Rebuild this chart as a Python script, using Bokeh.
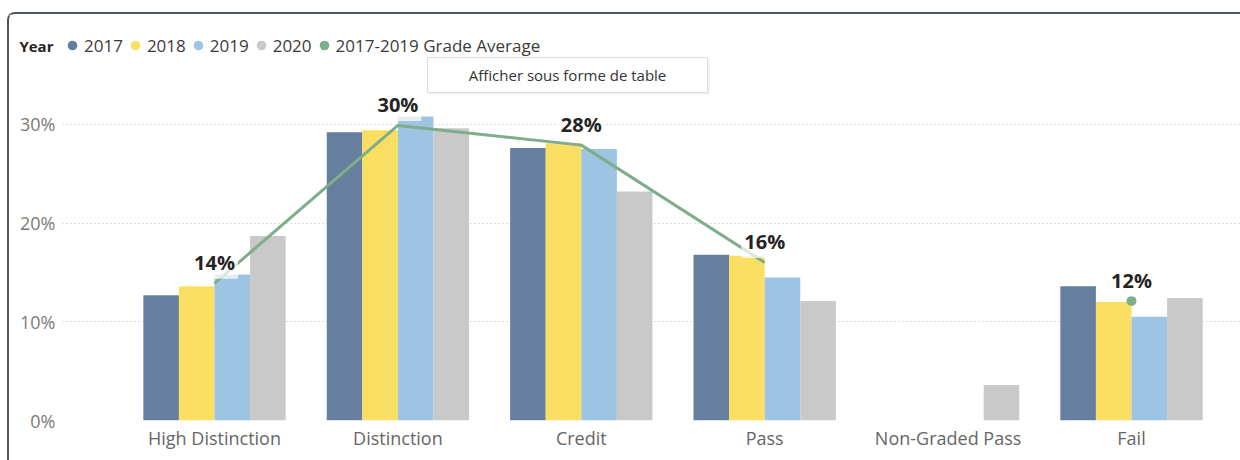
import math
import numpy as np
from bokeh.plotting import figure
from bokeh.layouts import column
from bokeh.models import (Range1d, FixedTicker, NumeralTickFormatter, Legend,
                          LegendItem, ColumnDataSource)
from bokeh.core.properties import value
from bokeh.embed import file_html
from bokeh.resources import INLINE

NAN = float("nan")

# ---------------- data ----------------
categories = ["High Distinction", "Distinction", "Credit", "Pass", "Non-Graded Pass", "Fail"]
years = ["2017", "2018", "2019", "2020"]
share_2017 = [0.127, 0.292, 0.276, 0.168, NAN, 0.136]
share_2018 = [0.136, 0.294, 0.281, 0.167, NAN, 0.120]
share_2019 = [0.148, 0.308, 0.275, 0.145, NAN, 0.105]
share_2020 = [0.187, 0.296, 0.232, 0.121, 0.036, 0.124]
grade_average = [0.139, 0.299, 0.279, 0.160, NAN, 0.121]
average_label = "2017-2019 Grade Average"
legend_title = "Year"
tooltip_text = "Afficher sous forme de table"
y_ticks = [0.0, 0.1, 0.2, 0.3]

# ---------------- style ----------------
year_colors = ["#677f9e", "#fbdf62", "#9ec4e3", "#c9c9c9"]
avg_color = "#7fad8c"
FONT = "Open Sans"

# layout (page pixels)
CANVAS_X0, CANVAS_Y0 = 9, 14          # inside the panel border
FRAME_L, FRAME_R, FRAME_B = 62, 1240, 420
SPLIT_Y = 56                            # header / chart boundary
W = 1240 - CANVAS_X0
HEADER_H = SPLIT_Y - CANVAS_Y0
MAIN_H = 460 - SPLIT_Y
ZERO_Y, STEP_Y = 420, 987.0             # page y of 0 %, pixels per 100 %
CAT0_X, STEP_X = 214, 183.4             # page x of first category, pixels per category
BAR_W = 0.194
LEGEND_Y = 45
LEGEND_GLYPH = 24


def data_x(px):
    return (px - CAT0_X) / STEP_X


def data_y(py):
    return (ZERO_Y - py) / STEP_Y


# ---------------- header: legend row ----------------
hdr = figure(width=W, height=HEADER_H, output_backend="svg", toolbar_location=None,
             x_range=Range1d(FRAME_L, FRAME_R), y_range=Range1d(SPLIT_Y, CANVAS_Y0),
             x_axis_type=None,
             min_border_left=FRAME_L - CANVAS_X0, min_border_right=0,
             min_border_top=0, min_border_bottom=0)
hdr.grid.visible = False
hdr.outline_line_color = None
hdr.border_fill_color = "white"
hax = hdr.yaxis[0]
hax.ticker = FixedTicker(ticks=[LEGEND_Y])
hax.major_label_overrides = {LEGEND_Y: legend_title}
hax.axis_line_color = None
hax.major_tick_line_color = None
hax.minor_tick_line_color = None
hax.major_tick_out = 0
hax.major_tick_in = 0
hax.minor_tick_out = 0
hax.minor_tick_in = 0
hax.major_label_standoff = 9
hax.major_label_text_font = FONT
hax.major_label_text_font_style = "bold"
hax.major_label_text_font_size = "15px"
hax.major_label_text_color = "#252423"

items = []
for j, yr in enumerate(years):
    r = hdr.scatter(x=[NAN], y=[NAN], marker="circle", size=10,
                    fill_color=year_colors[j], line_color=None)
    items.append(LegendItem(label=yr, renderers=[r]))
r = hdr.scatter(x=[NAN], y=[NAN], marker="circle", size=10, fill_color=avg_color, line_color=None)
items.append(LegendItem(label=average_label, renderers=[r]))
legend = Legend(items=items, orientation="horizontal",
                location=(72 - LEGEND_GLYPH // 2 - FRAME_L, SPLIT_Y - (LEGEND_Y + 13)),
                glyph_width=LEGEND_GLYPH, glyph_height=26, label_standoff=0, spacing=0,
                padding=0, margin=0, border_line_color=None, background_fill_alpha=0,
                label_text_font=FONT, label_text_font_size="17px",
                label_text_color="#3b3a39", label_height=26, label_text_baseline="middle")
hdr.add_layout(legend)

# ---------------- main chart ----------------
p = figure(width=W, height=MAIN_H, output_backend="svg", toolbar_location=None,
           x_range=Range1d(data_x(FRAME_L), data_x(FRAME_R)),
           y_range=Range1d(0.0, data_y(SPLIT_Y)),
           min_border_left=FRAME_L - CANVAS_X0, min_border_right=0,
           min_border_top=0, min_border_bottom=460 - FRAME_B)
p.outline_line_color = None
p.background_fill_color = "white"
p.border_fill_color = "white"

xs = np.arange(len(categories), dtype=float)
series = [share_2017, share_2018, share_2019, share_2020]
for j, vals in enumerate(series):
    src = ColumnDataSource(dict(x=xs + (j - 1.5) * BAR_W, top=vals))
    p.vbar(x="x", top="top", width=BAR_W, source=src, fill_color=year_colors[j],
           line_color=None)

avg = np.array(grade_average, dtype=float)
p.line(xs, avg, line_width=3, line_color=avg_color)
iso = [i for i in range(len(avg)) if not math.isnan(avg[i])
       and (i == 0 or math.isnan(avg[i - 1])) and (i == len(avg) - 1 or math.isnan(avg[i + 1]))]
p.scatter(xs[iso], avg[iso], marker="circle", size=10, fill_color=avg_color, line_color=None)

ok = [i for i in range(len(avg)) if not math.isnan(avg[i])]
lab_src = ColumnDataSource(dict(x=xs[ok], y=avg[ok],
                                t=[f"{avg[i] * 100:.0f}%" for i in ok]))
p.text(x="x", y="y", text="t", source=lab_src, text_font=value(FONT),
       text_font_style="bold", text_font_size="20px", text_color="#252423",
       text_align="center", text_baseline="middle", y_offset=-21,
       background_fill_color="white", background_fill_alpha=0.72, padding=3)

# tooltip box (with a faint shadow)
p.quad(left=[data_x(429)], right=[data_x(709)], top=[data_y(58)], bottom=[data_y(94)],
       fill_color="#000000", fill_alpha=0.06, line_color=None)
p.quad(left=[data_x(427)], right=[data_x(707)], top=[data_y(57)], bottom=[data_y(92)],
       fill_color="white", line_color="#dcdcdc", line_width=1)
p.text(x=[data_x(567)], y=[data_y(74)], text=[tooltip_text], text_font=value(FONT),
       text_font_size="15px", text_color="#333333",
       text_align="center", text_baseline="middle")

p.xaxis.ticker = FixedTicker(ticks=list(range(len(categories))))
p.xaxis.major_label_overrides = {i: c for i, c in enumerate(categories)}
p.yaxis.ticker = FixedTicker(ticks=y_ticks)
p.yaxis.formatter = NumeralTickFormatter(format="0%")
for ax in (p.xaxis[0], p.yaxis[0]):
    ax.axis_line_color = None
    ax.major_tick_line_color = None
    ax.minor_tick_line_color = None
    ax.major_tick_out = 0
    ax.major_tick_in = 0
    ax.minor_tick_out = 0
    ax.minor_tick_in = 0
    ax.major_label_text_font = FONT
    ax.major_label_text_font_size = "18px"
p.xaxis.major_label_text_color = "#666666"
p.yaxis.major_label_text_color = "#7a7a7a"
p.xaxis.major_label_standoff = 5
p.yaxis.major_label_standoff = 7
p.xgrid.grid_line_color = None
p.ygrid.ticker = FixedTicker(ticks=y_ticks)
p.ygrid.grid_line_color = "#bdbdbd"
p.ygrid.grid_line_dash = "1 3"
p.ygrid.grid_line_width = 1

layout = column(hdr, p, spacing=0, margin=(CANVAS_Y0 - 2, 0, 0, CANVAS_X0 - 2))
layout.styles = {"border-top": "2px solid #4f565e", "border-left": "2px solid #4f565e",
                 "border-top-left-radius": "8px"}

open("out.html", "w").write(file_html(layout, INLINE))
